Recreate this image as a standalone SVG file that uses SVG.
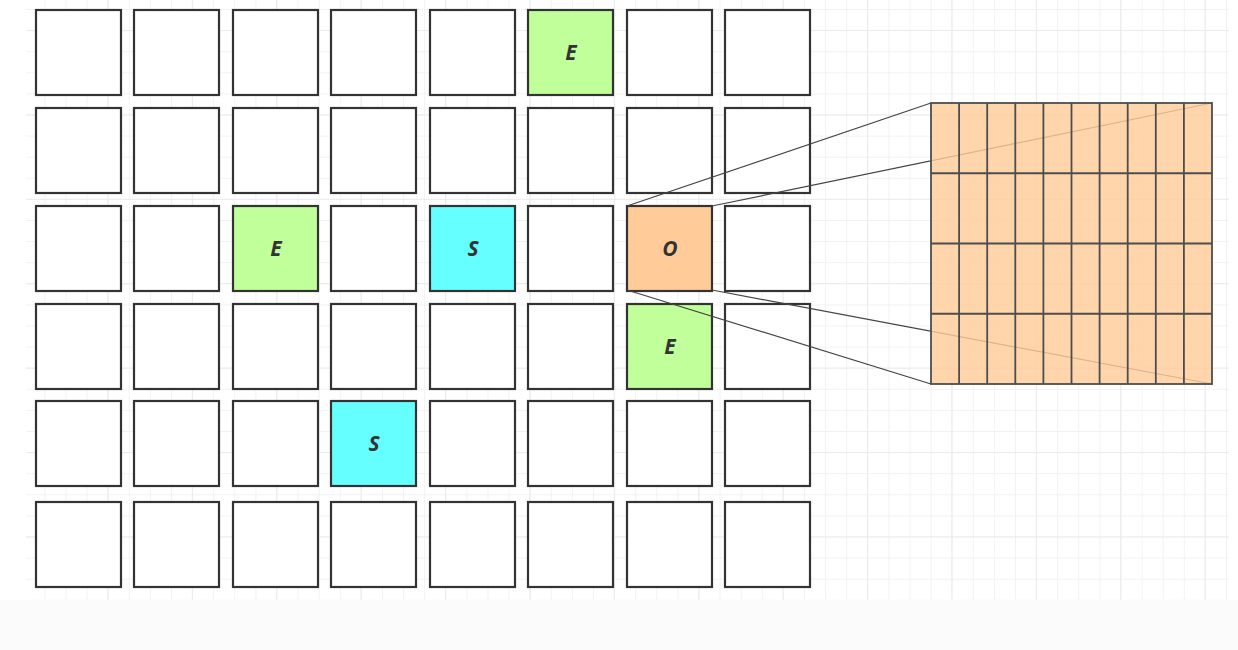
<svg xmlns="http://www.w3.org/2000/svg" width="1238" height="650" viewBox="0 0 1238 650">
  <defs>
    <pattern id="minor" patternUnits="userSpaceOnUse" x="2.2" y="9" width="21.1" height="21.1">
      <path d="M0.5 0V21.1M0 0.5H21.1" fill="none" stroke="#f2f2f2" stroke-width="1"/>
    </pattern>
    <pattern id="major" patternUnits="userSpaceOnUse" x="23" y="30" width="84.4" height="84.4">
      <path d="M0.5 0V84.4M0 0.5H84.4" fill="none" stroke="#ebebeb" stroke-width="1"/>
    </pattern>
    <style>
      .cell { fill: #ffffff; stroke: #333333; stroke-width: 2.2; }
      .green { fill: #c0ff99; }
      .cyan { fill: #66ffff; }
      .orange { fill: #ffcc99; }
      .lbl { font-family: "Open Sans", "DejaVu Sans", sans-serif; font-size: 21px; font-weight: bold; font-style: italic; fill: #333333; text-anchor: middle; }
      .conn { stroke: #444444; stroke-width: 1.2; fill: none; }
      .zoom { stroke: #4d4d4d; stroke-width: 1.8; fill: none; }
    </style>
  </defs>
  <rect x="0" y="0" width="1238" height="650" fill="#ffffff"/>
  <rect x="0" y="600" width="1238" height="50" fill="#fbfbfb"/>
  <rect x="26" y="0" width="1203" height="600" fill="url(#minor)"/>
  <rect x="26" y="0" width="1203" height="600" fill="url(#major)"/>

  <g id="cells">
    <!-- row 0 -->
    <g id="r0c0"><rect class="cell" x="36" y="10" width="85" height="85"/></g>
    <g id="r0c1"><rect class="cell" x="134" y="10" width="85" height="85"/></g>
    <g id="r0c2"><rect class="cell" x="233" y="10" width="85" height="85"/></g>
    <g id="r0c3"><rect class="cell" x="331" y="10" width="85" height="85"/></g>
    <g id="r0c4"><rect class="cell" x="430" y="10" width="85" height="85"/></g>
    <g id="r0c5"><rect class="cell green" x="528" y="10" width="85" height="85"/><text class="lbl" x="571" y="60">E</text></g>
    <g id="r0c6"><rect class="cell" x="627" y="10" width="85" height="85"/></g>
    <g id="r0c7"><rect class="cell" x="725" y="10" width="85" height="85"/></g>
    <!-- row 1 -->
    <g id="r1c0"><rect class="cell" x="36" y="108" width="85" height="85"/></g>
    <g id="r1c1"><rect class="cell" x="134" y="108" width="85" height="85"/></g>
    <g id="r1c2"><rect class="cell" x="233" y="108" width="85" height="85"/></g>
    <g id="r1c3"><rect class="cell" x="331" y="108" width="85" height="85"/></g>
    <g id="r1c4"><rect class="cell" x="430" y="108" width="85" height="85"/></g>
    <g id="r1c5"><rect class="cell" x="528" y="108" width="85" height="85"/></g>
    <g id="r1c6"><rect class="cell" x="627" y="108" width="85" height="85"/></g>
    <g id="r1c7"><rect class="cell" x="725" y="108" width="85" height="85"/></g>
    <!-- row 2 -->
    <g id="r2c0"><rect class="cell" x="36" y="206" width="85" height="85"/></g>
    <g id="r2c1"><rect class="cell" x="134" y="206" width="85" height="85"/></g>
    <g id="r2c2"><rect class="cell green" x="233" y="206" width="85" height="85"/><text class="lbl" x="276" y="256">E</text></g>
    <g id="r2c3"><rect class="cell" x="331" y="206" width="85" height="85"/></g>
    <g id="r2c4"><rect class="cell cyan" x="430" y="206" width="85" height="85"/><text class="lbl" x="473" y="256">S</text></g>
    <g id="r2c5"><rect class="cell" x="528" y="206" width="85" height="85"/></g>
    <g id="r2c6"><rect class="cell orange" x="627" y="206" width="85" height="85"/><text class="lbl" x="670" y="256">O</text></g>
    <g id="r2c7"><rect class="cell" x="725" y="206" width="85" height="85"/></g>
    <!-- row 3 -->
    <g id="r3c0"><rect class="cell" x="36" y="304" width="85" height="85"/></g>
    <g id="r3c1"><rect class="cell" x="134" y="304" width="85" height="85"/></g>
    <g id="r3c2"><rect class="cell" x="233" y="304" width="85" height="85"/></g>
    <g id="r3c3"><rect class="cell" x="331" y="304" width="85" height="85"/></g>
    <g id="r3c4"><rect class="cell" x="430" y="304" width="85" height="85"/></g>
    <g id="r3c5"><rect class="cell" x="528" y="304" width="85" height="85"/></g>
    <g id="r3c6"><rect class="cell green" x="627" y="304" width="85" height="85"/><text class="lbl" x="670" y="354">E</text></g>
    <g id="r3c7"><rect class="cell" x="725" y="304" width="85" height="85"/></g>
    <!-- row 4 -->
    <g id="r4c0"><rect class="cell" x="36" y="401" width="85" height="85"/></g>
    <g id="r4c1"><rect class="cell" x="134" y="401" width="85" height="85"/></g>
    <g id="r4c2"><rect class="cell" x="233" y="401" width="85" height="85"/></g>
    <g id="r4c3"><rect class="cell cyan" x="331" y="401" width="85" height="85"/><text class="lbl" x="374" y="451">S</text></g>
    <g id="r4c4"><rect class="cell" x="430" y="401" width="85" height="85"/></g>
    <g id="r4c5"><rect class="cell" x="528" y="401" width="85" height="85"/></g>
    <g id="r4c6"><rect class="cell" x="627" y="401" width="85" height="85"/></g>
    <g id="r4c7"><rect class="cell" x="725" y="401" width="85" height="85"/></g>
    <!-- row 5 -->
    <g id="r5c0"><rect class="cell" x="36" y="502" width="85" height="85"/></g>
    <g id="r5c1"><rect class="cell" x="134" y="502" width="85" height="85"/></g>
    <g id="r5c2"><rect class="cell" x="233" y="502" width="85" height="85"/></g>
    <g id="r5c3"><rect class="cell" x="331" y="502" width="85" height="85"/></g>
    <g id="r5c4"><rect class="cell" x="430" y="502" width="85" height="85"/></g>
    <g id="r5c5"><rect class="cell" x="528" y="502" width="85" height="85"/></g>
    <g id="r5c6"><rect class="cell" x="627" y="502" width="85" height="85"/></g>
    <g id="r5c7"><rect class="cell" x="725" y="502" width="85" height="85"/></g>
  </g>

  <g id="connectors">
    <line class="conn" x1="627" y1="206" x2="931" y2="103"/>
    <line class="conn" x1="712" y1="206" x2="1212" y2="103"/>
    <line class="conn" x1="627" y1="290" x2="931" y2="384"/>
    <line class="conn" x1="712" y1="290" x2="1212" y2="384"/>
  </g>

  <g id="zoomed-cell">
    <rect x="931" y="103" width="281" height="281" fill="#ffcc99" fill-opacity="0.82"/>
    <path class="zoom" d="M959.1 103V384M987.2 103V384M1015.3 103V384M1043.4 103V384M1071.5 103V384M1099.6 103V384M1127.7 103V384M1155.8 103V384M1183.9 103V384M931 173.25H1212M931 243.5H1212M931 313.75H1212"/>
    <rect class="zoom" x="931" y="103" width="281" height="281"/>
  </g>
</svg>
